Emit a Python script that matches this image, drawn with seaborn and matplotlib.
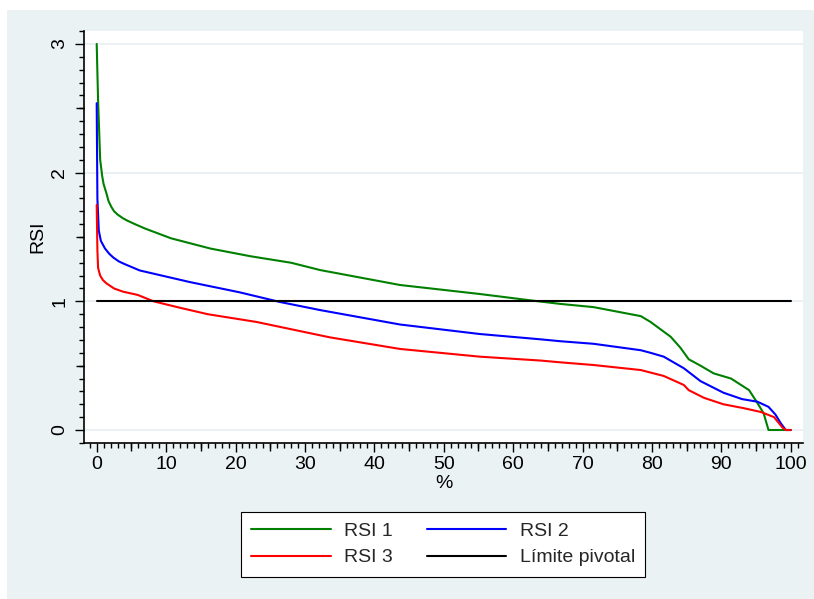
import numpy as np
import pandas as pd
import matplotlib
matplotlib.use("Agg")
import matplotlib.pyplot as plt
import seaborn as sns
from matplotlib.patches import Rectangle
from matplotlib.ticker import MultipleLocator

# ---- data ----
rsi1_x = [0, 0.2, 0.5, 0.8, 1.0, 1.4, 1.7, 2.1, 2.5, 3.0, 3.8, 4.5, 5.5, 7.0, 10.7, 16.4, 22.2, 28, 32.2,
          43.7, 55.2, 62.9, 66.8, 71.6, 78.4, 79.8, 82.7, 84.1, 85.3, 87, 88.9, 91.4, 94, 95.2, 96.1, 96.8, 100]
rsi1_y = [3.0, 2.56, 2.1, 1.97, 1.91, 1.84, 1.78, 1.735, 1.70, 1.675, 1.645, 1.625, 1.60, 1.565, 1.49, 1.41,
          1.35, 1.30, 1.243, 1.127, 1.057, 1.005, 0.98, 0.955, 0.885, 0.84, 0.725, 0.64, 0.55, 0.50, 0.44,
          0.40, 0.31, 0.21, 0.13, 0.0, 0.0]

rsi2_x = [0, 0.1, 0.3, 0.6, 1.2, 1.8, 2.4, 3.2, 4.0, 6.2, 13.4, 20.6, 26.4, 32.2, 43.7, 55.2, 63.9, 66.8,
          71.6, 78.4, 79.8, 81.7, 84.6, 87, 90.3, 93, 95.2, 96.8, 97.8, 98.6, 99.3, 100]
rsi2_y = [2.54, 1.8, 1.55, 1.47, 1.41, 1.37, 1.34, 1.31, 1.29, 1.24, 1.15, 1.07, 0.995, 0.932, 0.82, 0.746,
          0.705, 0.69, 0.67, 0.62, 0.60, 0.57, 0.48, 0.38, 0.29, 0.24, 0.22, 0.18, 0.12, 0.05, 0.0, 0.0]

rsi3_x = [0, 0.1, 0.2, 0.5, 0.9, 1.4, 2.5, 3.8, 5.9, 8.2, 12, 16, 23, 33.6, 43.7, 55.2, 63.9, 66.8,
          71.6, 78.4, 81.7, 84.6, 85.3, 87.5, 90.3, 93.2, 95.7, 97.6, 98.8, 99.3, 100]
rsi3_y = [1.75, 1.4, 1.26, 1.2, 1.165, 1.14, 1.10, 1.075, 1.05, 1.0, 0.95, 0.90, 0.84, 0.72, 0.63, 0.57,
          0.54, 0.526, 0.505, 0.466, 0.42, 0.35, 0.31, 0.25, 0.2, 0.17, 0.14, 0.10, 0.02, 0.0, 0.0]

pivot_x = [0, 100]
pivot_y = [1, 1]

x_ticks = [0, 10, 20, 30, 40, 50, 60, 70, 80, 90, 100]
y_ticks = [0, 1, 2, 3]

# ---- style ----
sns.set_style("ticks")
plt.rcParams['font.family'] = ['Liberation Sans', 'DejaVu Sans']

BG = "#EAF2F3"
FS = 14
fig = plt.figure(figsize=(8.14, 5.99), dpi=100, facecolor="white")
W, H = 814, 599
fig.patches.append(Rectangle((7 / W, 0), 1 - 7 / W, (H - 10) / H, transform=fig.transFigure,
                             facecolor=BG, edgecolor="none", zorder=-10))

ax = fig.add_axes([84 / W, (H - 443) / H, (803 - 84) / W, (443 - 31) / H])
ax.set_facecolor("white")

series = [
    ("RSI 1", rsi1_x, rsi1_y, "#008000"),
    ("RSI 2", rsi2_x, rsi2_y, "#0000FF"),
    ("RSI 3", rsi3_x, rsi3_y, "#FF0000"),
    ("Límite pivotal", pivot_x, pivot_y, "#000000"),
]
handles = {}
for name, xs, ys, col in series:
    df = pd.DataFrame({"x": xs, "y": ys})
    sns.lineplot(data=df, x="x", y="y", ax=ax, color=col, linewidth=1.5,
                 estimator=None, sort=False, label=name, legend=False)
    handles[name] = ax.lines[-1]

# limits mapping pixels
px_per_x = 6.94
ax.set_xlim(0 - (96.7 - 84) / px_per_x, 100 + (803 - 790.7) / px_per_x)
px_per_y = 128.7
ax.set_ylim(0 - (443 - 430) / px_per_y, 3 + (44 - 31) / px_per_y)

ax.set_xticks(x_ticks)
ax.set_yticks(y_ticks)
ax.xaxis.set_minor_locator(MultipleLocator(1))
ax.yaxis.set_minor_locator(MultipleLocator(0.1))
ax.set_yticklabels([str(v) for v in y_ticks], rotation=90, va="center")
ax.set_xticklabels([str(v) for v in x_ticks])

ax.tick_params(axis="both", which="major", length=6.5, width=1, color="black",
               labelsize=FS, labelcolor="black", direction="out")
ax.tick_params(axis="both", which="minor", length=3.5, width=1, color="black", direction="out")
ax.tick_params(axis="y", which="major", pad=5)
ax.tick_params(axis="x", which="major", pad=3)

# medium ticks at the fives
secx = ax.secondary_xaxis("bottom")
secx.set_xticks(list(np.arange(5, 100, 10)))
secx.tick_params(length=5.5, width=1, color="black", labelbottom=False)
secx.spines["bottom"].set_visible(False)
secy = ax.secondary_yaxis("left")
secy.set_yticks([0.5, 1.5, 2.5])
secy.tick_params(length=5.5, width=1, color="black", labelleft=False)
secy.spines["left"].set_visible(False)

ax.grid(False)
for v in y_ticks:
    ax.axhline(v, color="#E6EEF2", linewidth=1.2, zorder=0)

for s in ["top", "right"]:
    ax.spines[s].set_visible(False)
for s in ["left", "bottom"]:
    ax.spines[s].set_color("black")
    ax.spines[s].set_linewidth(1.2)

ax.set_xlabel("%", fontsize=FS, labelpad=1, color="black")
ax.set_ylabel("RSI", fontsize=FS, labelpad=3, color="black")

order = ["RSI 1", "RSI 3", "RSI 2", "Límite pivotal"]
leg = fig.legend([handles[k] for k in order], order, ncol=2, loc="center",
                 bbox_to_anchor=(443 / W, (H - 544.4) / H), frameon=True, fancybox=False,
                 fontsize=FS, handlelength=4.1, handletextpad=0.67, columnspacing=1.75,
                 labelspacing=0.45, borderpad=0.55, borderaxespad=0)
fr = leg.get_frame()
fr.set_facecolor("white")
fr.set_edgecolor("black")
fr.set_linewidth(0.8)
fr.set_alpha(1)

fig.savefig("out.png", dpi=100, facecolor="white")
